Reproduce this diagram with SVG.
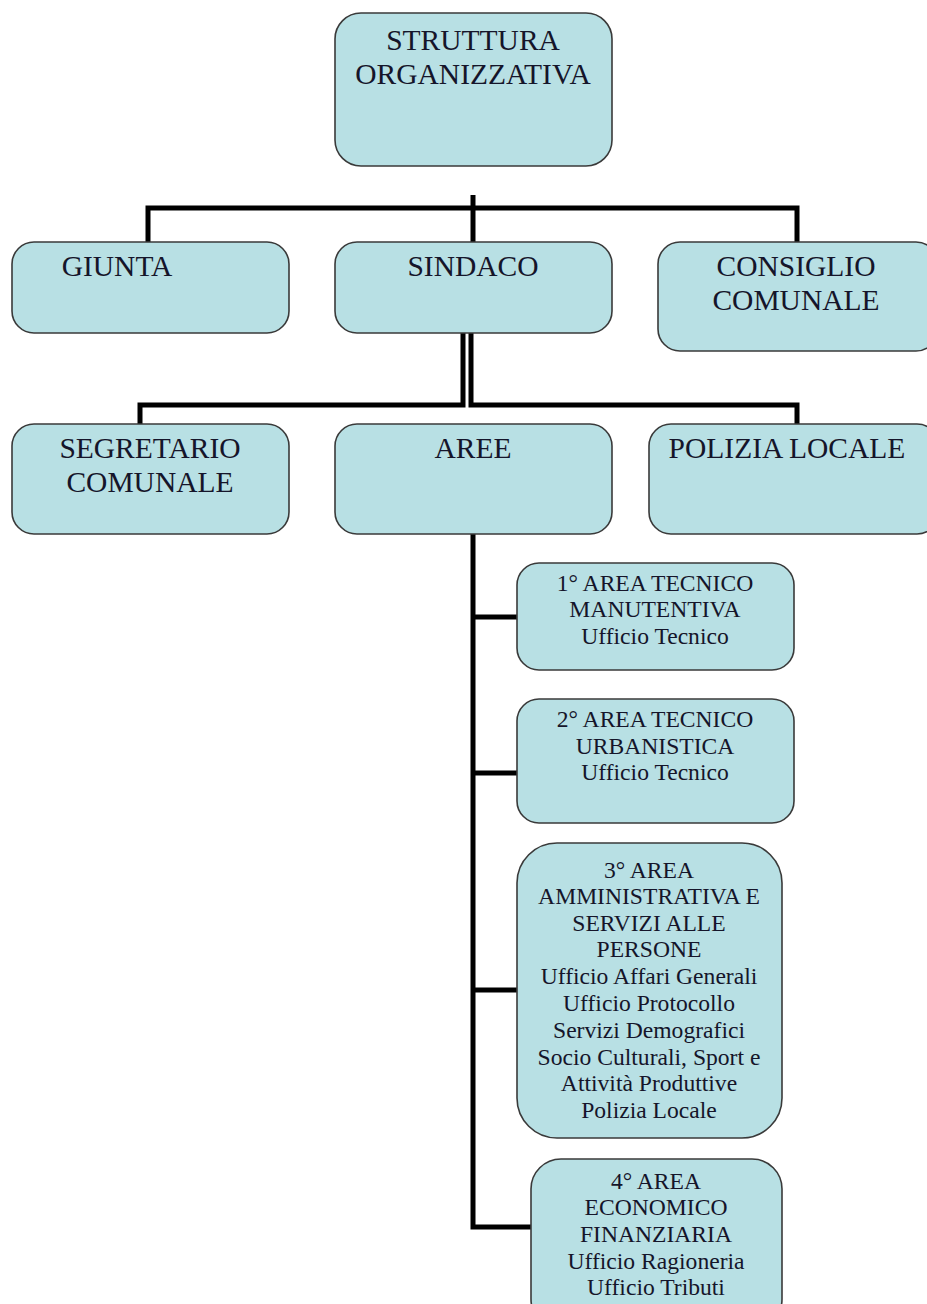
<svg xmlns="http://www.w3.org/2000/svg" width="927" height="1304" viewBox="0 0 927 1304">
<style>
.box{fill:#b8e0e4;stroke:#3a3a3a;stroke-width:1.6}
.c{fill:none;stroke:#000;stroke-width:5;stroke-linejoin:miter}
text{font-family:"Liberation Serif","Times New Roman",serif;fill:#15152a;text-anchor:middle}
.l{font-size:29.5px}
.s{font-size:23.6px}
</style>
<rect width="927" height="1304" fill="#fff"/>
<g id="connectors">
<path class="c" d="M148,242 V208 H797 V242"/>
<path class="c" d="M473,195 V242"/>
<path class="c" d="M140,424 V405 H463 V333"/>
<path class="c" d="M797,424 V405 H471 V333"/>
<path class="c" d="M473,534 V1227 H531"/>
<path class="c" d="M473,617 H517 M473,773 H517 M473,990 H517"/>
</g>
<g id="n-struttura"><rect class="box" x="335" y="13" width="277" height="153" rx="26"/>
<text class="l" x="473" y="50">STRUTTURA</text><text class="l" x="473" y="84">ORGANIZZATIVA</text></g>
<g id="n-giunta"><rect class="box" x="12" y="242" width="277" height="91" rx="22"/>
<text class="l" x="117" y="276">GIUNTA</text></g>
<g id="n-sindaco"><rect class="box" x="335" y="242" width="277" height="91" rx="22"/>
<text class="l" x="473" y="276">SINDACO</text></g>
<g id="n-consiglio"><rect class="box" x="658" y="242" width="280" height="109" rx="22"/>
<text class="l" x="796" y="276">CONSIGLIO</text><text class="l" x="796" y="310">COMUNALE</text></g>
<g id="n-segretario"><rect class="box" x="12" y="424" width="277" height="110" rx="22"/>
<text class="l" x="150" y="458">SEGRETARIO</text><text class="l" x="150" y="492">COMUNALE</text></g>
<g id="n-aree"><rect class="box" x="335" y="424" width="277" height="110" rx="22"/>
<text class="l" x="473" y="458">AREE</text></g>
<g id="n-polizia"><rect class="box" x="649" y="424" width="290" height="110" rx="22"/>
<text class="l" x="787" y="458">POLIZIA LOCALE</text></g>
<g id="n-area1"><rect class="box" x="517" y="563" width="277" height="107" rx="22"/>
<text class="s" x="655" y="591">1° AREA TECNICO</text><text class="s" x="655" y="617">MANUTENTIVA</text><text class="s" x="655" y="644">Ufficio Tecnico</text></g>
<g id="n-area2"><rect class="box" x="517" y="699" width="277" height="124" rx="22"/>
<text class="s" x="655" y="727">2° AREA TECNICO</text><text class="s" x="655" y="754">URBANISTICA</text><text class="s" x="655" y="780">Ufficio Tecnico</text></g>
<g id="n-area3"><rect class="box" x="517" y="843" width="265" height="295" rx="40"/>
<text class="s" x="649" y="878">3° AREA</text><text class="s" x="649" y="904">AMMINISTRATIVA E</text><text class="s" x="649" y="931">SERVIZI ALLE</text><text class="s" x="649" y="957">PERSONE</text>
<text class="s" x="649" y="984">Ufficio Affari Generali</text><text class="s" x="649" y="1011">Ufficio Protocollo</text><text class="s" x="649" y="1038">Servizi Demografici</text><text class="s" x="649" y="1065">Socio Culturali, Sport e</text><text class="s" x="649" y="1091">Attività Produttive</text><text class="s" x="649" y="1118">Polizia Locale</text></g>
<g id="n-area4"><rect class="box" x="531" y="1159" width="251" height="170" rx="30"/>
<text class="s" x="656" y="1189">4° AREA</text><text class="s" x="656" y="1215">ECONOMICO</text><text class="s" x="656" y="1242">FINANZIARIA</text><text class="s" x="656" y="1269">Ufficio Ragioneria</text><text class="s" x="656" y="1295">Ufficio Tributi</text></g>
</svg>
